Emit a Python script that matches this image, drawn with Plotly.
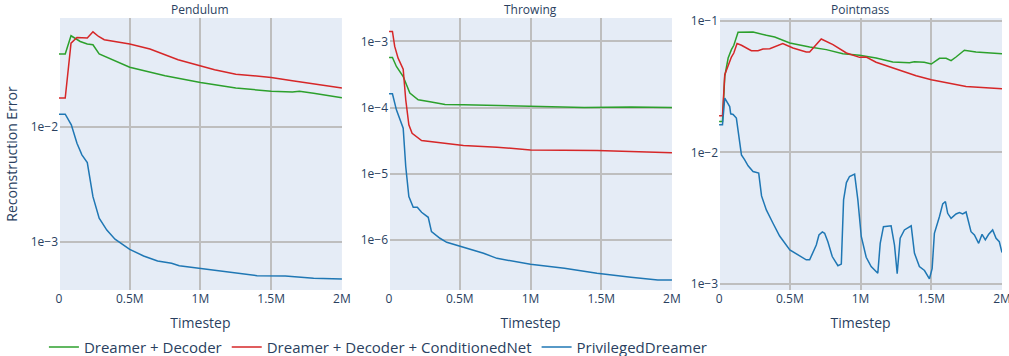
import plotly.graph_objects as go
from plotly.subplots import make_subplots

env_names = ["Pendulum", "Throwing", "Pointmass"]
series_names = ["Dreamer + Decoder", "Dreamer + Decoder + ConditionedNet", "PrivilegedDreamer"]
series_colors = ["#2ca02c", "#d62728", "#1f77b4"]

# ---------------- Pendulum ----------------
pend_dec_x = [0, 0.044, 0.085, 0.15, 0.2, 0.24, 0.284, 0.385, 0.5, 0.75, 1.0, 1.25, 1.5, 1.65, 1.7, 1.8, 2.0]
pend_dec_y = [0.0427, 0.0427, 0.0615, 0.0548, 0.0522, 0.0513, 0.0428, 0.0380, 0.0328, 0.0276, 0.0241, 0.0216,
              0.0203, 0.0200, 0.0203, 0.0195, 0.0178]
pend_cond_x = [0, 0.044, 0.085, 0.127, 0.2, 0.24, 0.28, 0.32, 0.5, 0.643, 0.842, 1.0, 1.1, 1.25, 1.5, 1.65,
               1.75, 2.0]
pend_cond_y = [0.01766, 0.01766, 0.0531, 0.0594, 0.0587, 0.0665, 0.0606, 0.0568, 0.0521, 0.0471, 0.0380, 0.0339,
               0.0311, 0.0285, 0.0267, 0.0250, 0.0240, 0.0216]
pend_priv_x = [0, 0.044, 0.087, 0.127, 0.162, 0.2, 0.24, 0.284, 0.338, 0.396, 0.5, 0.598, 0.697, 0.796, 0.85,
               1.0, 1.1, 1.2, 1.3, 1.4, 1.6, 1.7, 1.8, 2.0]
pend_priv_y = [0.01282, 0.01282, 0.01034, 0.00717, 0.00568, 0.00487, 0.00246, 0.00160, 0.00126, 0.00105,
               0.000858, 0.000751, 0.000680, 0.000649, 0.000618, 0.000587, 0.000567, 0.000549, 0.000524,
               0.000506, 0.000503, 0.000490, 0.000480, 0.000474]

# ---------------- Throwing ----------------
throw_dec_x = [0, 0.024, 0.052, 0.1, 0.147, 0.206, 0.289, 0.396, 0.526, 0.763, 1.0, 1.38, 1.71, 2.0]
throw_dec_y = [5.72e-4, 5.72e-4, 4.18e-4, 2.95e-4, 1.65e-4, 1.31e-4, 1.22e-4, 1.11e-4, 1.10e-4, 1.07e-4,
               1.05e-4, 1.0e-4, 1.02e-4, 1.0e-4]
throw_cond_x = [0, 0.024, 0.04, 0.064, 0.1, 0.118, 0.14, 0.163, 0.23, 0.336, 0.526, 0.763, 1.0, 1.47, 2.0]
throw_cond_y = [1.42e-3, 1.42e-3, 8.40e-4, 5.59e-4, 3.81e-4, 1.31e-4, 5.46e-5, 4.08e-5, 3.16e-5, 2.98e-5,
                2.66e-5, 2.51e-5, 2.28e-5, 2.23e-5, 2.06e-5]
throw_priv_x = [0, 0.024, 0.052, 0.076, 0.1, 0.118, 0.14, 0.171, 0.2, 0.23, 0.277, 0.3, 0.36, 0.408, 0.526,
                0.668, 0.763, 0.88, 1.0, 1.24, 1.47, 1.71, 1.9, 2.0]
throw_priv_y = [1.61e-4, 1.61e-4, 9.23e-5, 6.51e-5, 4.86e-5, 1.28e-5, 4.48e-6, 3.09e-6, 3.09e-6, 2.60e-6,
                2.18e-6, 1.32e-6, 1.05e-6, 9.11e-7, 7.66e-7, 6.21e-7, 5.21e-7, 4.65e-7, 4.23e-7, 3.68e-7,
                3.09e-7, 2.69e-7, 2.45e-7, 2.45e-7]

# ---------------- Pointmass ----------------
pm_dec_x = [0, 0.024, 0.04, 0.064, 0.087, 0.104, 0.134, 0.17, 0.24, 0.334, 0.393, 0.5, 0.64, 0.758, 0.875,
            0.993, 1.11, 1.228, 1.346, 1.38, 1.45, 1.5, 1.534, 1.558, 1.605, 1.64, 1.675, 1.734, 1.816, 2.0]
pm_dec_y = [0.01725, 0.01725, 0.0380, 0.0525, 0.0608, 0.0656, 0.0824, 0.0829, 0.0829, 0.0782, 0.0759, 0.0684,
            0.0637, 0.0608, 0.0566, 0.0550, 0.0525, 0.0490, 0.0484, 0.0492, 0.0487, 0.0472, 0.0501, 0.0522,
            0.0522, 0.0501, 0.0534, 0.0601, 0.0583, 0.0566]
pm_cond_x = [0, 0.024, 0.04, 0.064, 0.087, 0.104, 0.127, 0.158, 0.228, 0.275, 0.31, 0.358, 0.428, 0.45, 0.522,
             0.616, 0.64, 0.722, 0.805, 0.9, 0.993, 1.04, 1.11, 1.228, 1.393, 1.5, 1.58, 1.746, 2.0]
pm_cond_y = [0.01905, 0.01905, 0.0392, 0.0467, 0.0534, 0.0573, 0.0676, 0.0656, 0.0597, 0.0597, 0.0615, 0.0618,
             0.0663, 0.0676, 0.0625, 0.0583, 0.0583, 0.0733, 0.0663, 0.0573, 0.0531, 0.0534, 0.0487, 0.0441,
             0.0385, 0.0359, 0.0344, 0.0319, 0.0306]
pm_priv_x = [0, 0.024, 0.04, 0.052, 0.075, 0.082, 0.099, 0.122, 0.141, 0.158, 0.181, 0.205, 0.24, 0.28, 0.3,
             0.334, 0.381, 0.428, 0.5, 0.569, 0.616, 0.64, 0.664, 0.687, 0.706, 0.73, 0.746, 0.769, 0.8, 0.84,
             0.864, 0.88, 0.9, 0.922, 0.958, 0.981, 1.005, 1.04, 1.075, 1.122, 1.139, 1.162, 1.216, 1.24,
             1.259, 1.28, 1.31, 1.358, 1.381, 1.416, 1.452, 1.475, 1.487, 1.506, 1.522, 1.558, 1.581, 1.6,
             1.616, 1.64, 1.675, 1.699, 1.722, 1.746, 1.781, 1.805, 1.835, 1.859, 1.882, 1.906, 1.934, 1.958,
             1.981, 2.0]
pm_priv_y = [0.01626, 0.01626, 0.0260, 0.0249, 0.0224, 0.0197, 0.0195, 0.0183, 0.01250, 0.00959, 0.00879,
             0.00791, 0.00716, 0.00696, 0.00467, 0.00365, 0.00289, 0.00231, 0.00181, 0.00163, 0.00152,
             0.00152, 0.00171, 0.00197, 0.00235, 0.00248, 0.00242, 0.00209, 0.00161, 0.00137, 0.00141,
             0.00435, 0.00590, 0.00656, 0.00684, 0.00435, 0.00229, 0.00159, 0.00135, 0.00120, 0.00203,
             0.00272, 0.00276, 0.00197, 0.00119, 0.00222, 0.00257, 0.00276, 0.00171, 0.00135, 0.00126,
             0.00113, 0.00109, 0.00130, 0.00242, 0.00325, 0.00406, 0.00423, 0.00344, 0.00315, 0.00340,
             0.00348, 0.00340, 0.00352, 0.00249, 0.00235, 0.00203, 0.00238, 0.00216, 0.00238, 0.00257,
             0.00222, 0.00209, 0.00173]

# y tick labels (log axes)
ytick_vals = [1e-1, 1e-2, 1e-3, 1e-4, 1e-5, 1e-6]
ytick_text = ["1e\u22121", "1e\u22122", "1e\u22123", "1e\u22124", "1e\u22125", "1e\u22126"]

env_series = [
    [(pend_dec_x, pend_dec_y), (pend_cond_x, pend_cond_y), (pend_priv_x, pend_priv_y)],
    [(throw_dec_x, throw_dec_y), (throw_cond_x, throw_cond_y), (throw_priv_x, throw_priv_y)],
    [(pm_dec_x, pm_dec_y), (pm_cond_x, pm_cond_y), (pm_priv_x, pm_priv_y)],
]
y_ranges = [[-3.42, -1.057], [-6.762, -2.645], [-3.048, -0.975]]

fig = make_subplots(rows=1, cols=3, subplot_titles=env_names, horizontal_spacing=0.05)

for c, series in enumerate(env_series):
    for s, (xs, ys) in enumerate(series):
        fig.add_trace(go.Scatter(
            x=[v * 1e6 for v in xs], y=ys, mode="lines", name=series_names[s],
            line=dict(color=series_colors[s], width=1.5), legendgroup=series_names[s],
            showlegend=(c == 0)), row=1, col=c + 1)
    fig.update_xaxes(title_text="Timestep", title_standoff=12, range=[0, 2e6], dtick=500000,
                     gridcolor="#bebebe", gridwidth=2, automargin=False, ticklabeloverflow="allow",
                     row=1, col=c + 1)
    fig.update_yaxes(type="log", range=y_ranges[c], tickvals=ytick_vals, ticktext=ytick_text,
                     gridcolor="#bebebe", gridwidth=2, automargin=False, row=1, col=c + 1)

fig.update_yaxes(title_text="Reconstruction Error", title_standoff=9, row=1, col=1)
fig.update_annotations(font_size=12, yshift=-2)
fig.update_layout(
    template="plotly",
    width=1009, height=356,
    margin=dict(l=59, r=7, t=18, b=66, autoexpand=False),
    font=dict(size=12),
    legend=dict(orientation="h", x=-0.016, xanchor="left", y=-0.15, yanchor="top", font=dict(size=15)),
)
fig.update_xaxes(title_font_size=14)
fig.update_yaxes(title_font_size=14)

fig.write_html("out.html", config={"displayModeBar": False},
               post_script="document.body.style.margin='0';")
